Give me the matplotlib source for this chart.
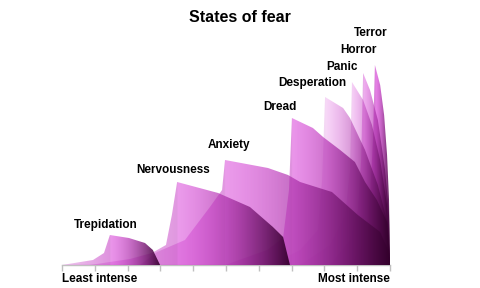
import numpy as np
import matplotlib
matplotlib.use("Agg")
import matplotlib.pyplot as plt
from matplotlib.patches import Polygon

plt.rcParams['font.family'] = ['Liberation Sans', 'DejaVu Sans']

# ---- data ----
names = ["Trepidation", "Nervousness", "Anxiety", "Dread",
         "Desperation", "Panic", "Horror", "Terror"]

trepidation_x = [0, 0.945, 1.28, 1.46, 2.04, 2.53, 2.77, 2.99]
trepidation_y = [0, 5, 12, 30, 27, 22, 15, 0]

nervousness_x = [0.85, 2.07, 2.74, 3.17, 3.35, 3.51, 4.76, 5.73, 6.43, 6.74, 6.95]
nervousness_y = [0, 6, 12, 20, 50, 83, 72, 58, 38, 28, 0]

anxiety_x = [2.38, 2.90, 3.75, 4.51, 4.88, 4.97, 6.28, 6.89, 7.26, 8.23, 9.02, 9.70, 9.94, 10]
anxiety_y = [0, 13, 25, 58, 75, 105, 97, 90, 83, 73, 50, 33, 15, 0]

dread_x = [4.97, 6.25, 6.74, 6.92, 7.01, 7.65, 7.96, 8.48, 8.93, 9.24, 9.60, 9.91, 10]
dread_y = [0, 15, 27, 75, 147, 137, 128, 115, 103, 83, 65, 43, 0]

desperation_x = [6.34, 7.26, 7.80, 7.93, 8.02, 8.57, 8.78, 9.24, 9.63, 9.94, 10]
desperation_y = [0, 15, 35, 85, 168, 157, 147, 115, 80, 40, 0]

panic_x = [7.26, 8.17, 8.63, 8.78, 8.84, 9.18, 9.45, 9.70, 9.91, 10]
panic_y = [0, 20, 50, 95, 183, 165, 140, 105, 60, 0]

horror_x = [8.17, 8.78, 9.02, 9.12, 9.18, 9.39, 9.63, 9.85, 9.97, 10]
horror_y = [0, 25, 55, 105, 192, 175, 145, 95, 50, 0]

terror_x = [8.78, 9.24, 9.39, 9.48, 9.54, 9.70, 9.82, 9.91, 9.97, 10]
terror_y = [0, 25, 65, 125, 200, 180, 150, 110, 65, 0]

series_x = [trepidation_x, nervousness_x, anxiety_x, dread_x,
            desperation_x, panic_x, horror_x, terror_x]
series_y = [trepidation_y, nervousness_y, anxiety_y, dread_y,
            desperation_y, panic_y, horror_y, terror_y]

tick_positions = list(range(11))
axis_labels = ["Least intense", "Most intense"]
title = "States of fear"

# ---- styling ----
label_pos = [(1.34, 40), (3.38, 95), (5.09, 120), (6.65, 158),
             (7.62, 182), (8.54, 198), (9.05, 215), (9.42, 232)]
peak_alpha = [0.55, 0.52, 0.52, 0.55, 0.2, 0.24, 0.42, 0.65]

c0 = np.array([0.85, 0.25, 0.85])
c1 = np.array([0.20, 0.0, 0.17])

fig = plt.figure(figsize=(4.8, 2.88), dpi=100)
ax = fig.add_axes([62 / 480, 23 / 288, 328 / 480, 245 / 288])


def gradient_area(ax, x, y, a_peak, zorder):
    x = np.asarray(x, float)
    y = np.asarray(y, float)
    verts = [(x[0], 0)] + list(zip(x, y)) + [(x[-1], 0)]
    poly = Polygon(verts, closed=True, facecolor='none', edgecolor='none')
    ax.add_patch(poly)
    xp = x[np.argmax(y)]
    xs = np.linspace(x.min(), x.max(), 512)
    t = np.clip((xs - xp) / (x.max() - xp), 0, 1)
    r = np.clip((xs - x.min()) / max(xp - x.min(), 1e-6), 0, 1)
    alpha = np.where(xs < xp, a_peak * (0.5 + 0.5 * r),
                     a_peak + (0.95 - a_peak) * t)
    tc = np.where(xs < xp, 0.12, t ** 1.5)
    rgba = np.zeros((1, 512, 4))
    rgba[0, :, :3] = c0 + (c1 - c0) * tc[:, None]
    rgba[0, :, 3] = alpha
    im = ax.imshow(rgba, extent=[x.min(), x.max(), 0, y.max()], aspect='auto',
                   origin='lower', interpolation='bilinear', zorder=zorder)
    im.set_clip_path(poly)


n = len(series_x)
for i, (xs_, ys_) in enumerate(zip(series_x, series_y)):
    gradient_area(ax, xs_, ys_, peak_alpha[i], 2 + (n - i))

for name, (lx, ly) in zip(names, label_pos):
    ax.text(lx, ly, name, ha='center', va='center', fontsize=8.5,
            fontweight='bold', color='black', zorder=20)

ax.set_xlim(0, 10)
ax.set_ylim(0, 245)
ax.set_aspect('auto')
for s in ['top', 'right', 'left']:
    ax.spines[s].set_visible(False)
ax.spines['bottom'].set_color('#C0C0C0')
ax.spines['bottom'].set_linewidth(1)
ax.set_yticks([])
ax.set_xticks(tick_positions)
ax.set_xticklabels([])
ax.tick_params(axis='x', length=4, color='#C0C0C0', width=1)

ax.text(0, -14, axis_labels[0], ha='left', va='center', fontsize=8.5,
        fontweight='bold', clip_on=False)
ax.text(10, -14, axis_labels[1], ha='right', va='center', fontsize=8.5,
        fontweight='bold', clip_on=False)

fig.text(0.5, 1 - 17 / 288, title, ha='center', va='center',
         fontsize=11.5, fontweight='bold')

fig.savefig("out.png", dpi=100)
